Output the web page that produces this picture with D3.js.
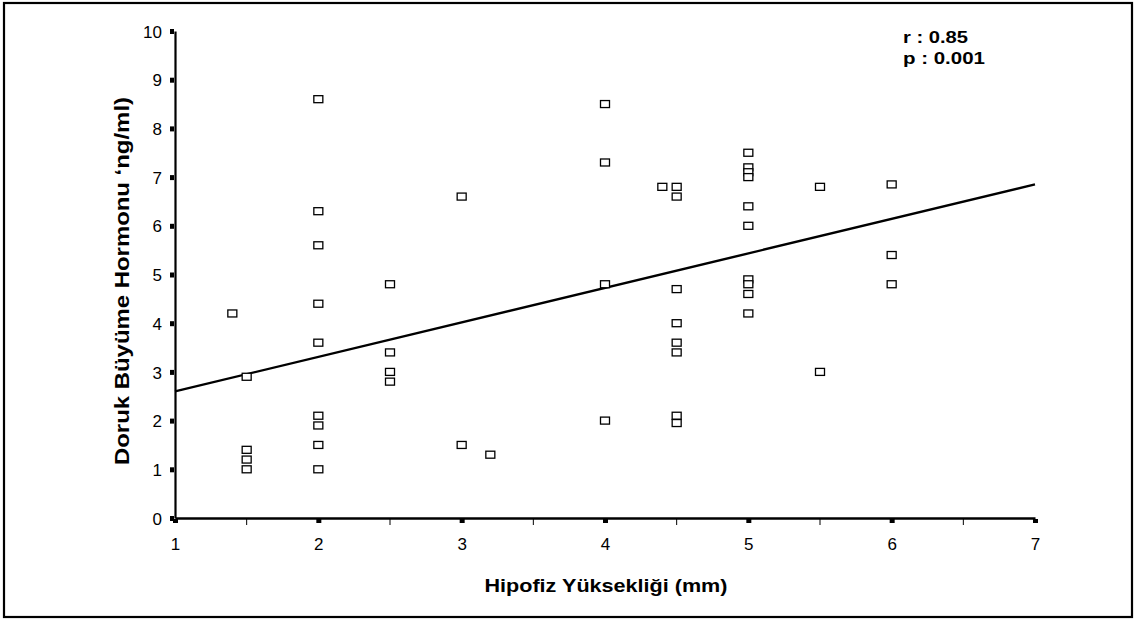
<!DOCTYPE html>
<html>
<head>
<meta charset="utf-8">
<script src="https://cdn.jsdelivr.net/npm/d3@7"></script>
<style>
  html, body { margin: 0; padding: 0; background: #fff; }
  svg { display: block; font-family: "Liberation Sans", Arial, sans-serif; }
</style>
</head>
<body>
<svg id="chart" width="1136" height="623"></svg>
<script>
// ---- data ----
const xValues = [1.4, 1.5, 1.5, 1.5, 1.5,
  2, 2, 2, 2, 2, 2, 2, 2, 2,
  2.5, 2.5, 2.5, 2.5,
  3, 3, 3.2,
  4, 4, 4, 4,
  4.4, 4.5, 4.5, 4.5, 4.5, 4.5, 4.5, 4.5, 4.5,
  5, 5, 5, 5, 5, 5, 5, 5, 5, 5,
  5.5, 5.5,
  6, 6, 6];
const yValues = [4.2, 2.9, 1.4, 1.2, 1.0,
  8.6, 6.3, 5.6, 4.4, 3.6, 2.1, 1.9, 1.5, 1.0,
  4.8, 3.4, 3.0, 2.8,
  6.6, 1.5, 1.3,
  8.5, 7.3, 4.8, 2.0,
  6.8, 6.8, 6.6, 4.7, 4.0, 3.6, 3.4, 2.1, 1.95,
  7.5, 7.2, 7.1, 7.0, 6.4, 6.0, 4.9, 4.8, 4.6, 4.2,
  6.8, 3.0,
  6.85, 5.4, 4.8];
const trendX = [1, 7];
const trendY = [2.6, 6.85];
const xTicks = [1, 2, 3, 4, 5, 6, 7];
const xMinorTicks = [1.5, 2.5, 3.5, 4.5, 5.5, 6.5];
const yTicks = [0, 1, 2, 3, 4, 5, 6, 7, 8, 9, 10];
const statLines = ["r : 0.85", "p : 0.001"];
const xTitle = "Hipofiz Yüksekliği (mm)";
const yTitle = "Doruk Büyüme Hormonu ‘ng/ml)";

// ---- layout ----
const svg = d3.select("#chart");
const x = d3.scaleLinear().domain([1, 7]).range([175, 1035]);
const y = d3.scaleLinear().domain([0, 10]).range([518, 31]);

// outer frame
svg.append("rect").attr("x", 4).attr("y", 3).attr("width", 1128).attr("height", 614)
  .attr("fill", "none").attr("stroke", "#000").attr("stroke-width", 2.2);

// y axis
const yAxis = d3.axisLeft(y).tickValues(yTicks).tickFormat(d3.format("d")).tickSize(0).tickPadding(13);
const gy = svg.append("g").attr("transform", `translate(${x(1)},0)`).call(yAxis);
gy.select(".domain").attr("stroke", "#000").attr("stroke-width", 2.2);
gy.selectAll(".tick text").attr("font-size", 17).attr("fill", "#000").attr("dy", "0.36em");
gy.selectAll(".tick").append("rect").attr("x", -5).attr("y", -2.5).attr("width", 4).attr("height", 5).attr("fill", "#000");

// x axis
const xAxis = d3.axisBottom(x).tickValues(xTicks).tickFormat(d3.format("d")).tickSize(0).tickPadding(20);
const gx = svg.append("g").attr("transform", `translate(0,${y(0)})`).call(xAxis);
gx.select(".domain").attr("stroke", "#000").attr("stroke-width", 2.4);
gx.selectAll(".tick text").attr("font-size", 17).attr("fill", "#000");
gx.selectAll(".tick").append("rect").attr("x", -2.5).attr("y", 1).attr("width", 5).attr("height", 4).attr("fill", "#000");
gx.selectAll(".minor").data(xMinorTicks).enter().append("line")
  .attr("x1", d => x(d)).attr("x2", d => x(d)).attr("y1", 1).attr("y2", 7)
  .attr("stroke", "#000").attr("stroke-width", 1);

// trend line
svg.append("line")
  .attr("x1", x(trendX[0])).attr("y1", y(trendY[0]))
  .attr("x2", x(trendX[1])).attr("y2", y(trendY[1]))
  .attr("stroke", "#000").attr("stroke-width", 2.4);

// points
const pts = xValues.map((v, i) => ({ x: v, y: yValues[i] }));
svg.append("g").selectAll("rect").data(pts).enter().append("rect")
  .attr("x", d => x(d.x) - 4.5).attr("y", d => y(d.y) - 3.5)
  .attr("width", 9).attr("height", 7)
  .attr("fill", "#fff").attr("stroke", "#000").attr("stroke-width", 1.3);

// titles
svg.append("text").attr("x", 606).attr("y", 592).attr("text-anchor", "middle")
  .attr("font-size", 19).attr("font-weight", "bold")
  .attr("textLength", 243).attr("lengthAdjust", "spacingAndGlyphs").text(xTitle);
svg.append("text").attr("transform", "translate(129,281) rotate(-90)").attr("text-anchor", "middle")
  .attr("font-size", 20).attr("font-weight", "bold")
  .attr("textLength", 368).attr("lengthAdjust", "spacingAndGlyphs").text(yTitle);

// stats
const statLen = [65, 82];
svg.append("g").selectAll("text").data(statLines).enter().append("text")
  .attr("x", 903).attr("y", (d, i) => 43 + i * 21)
  .attr("font-size", 17).attr("font-weight", "bold")
  .attr("textLength", (d, i) => statLen[i]).attr("lengthAdjust", "spacingAndGlyphs")
  .text(d => d);
</script>
</body>
</html>
